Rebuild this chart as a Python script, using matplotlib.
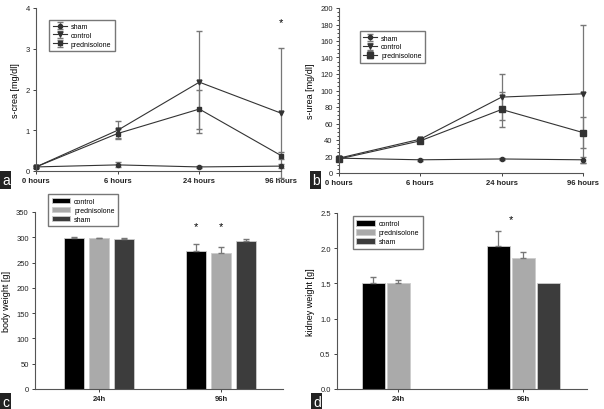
import matplotlib
matplotlib.use("Agg")
import matplotlib.pyplot as plt
import numpy as np

# time course data (panels a, b)
times = ["0 hours", "6 hours", "24 hours", "96 hours"]

crea_sham = [0.1, 0.15, 0.1, 0.12]
crea_sham_err = [0.02, 0.06, 0.02, 0.05]
crea_control = [0.1, 1.0, 2.18, 1.42]
crea_control_err = [0.02, 0.22, 1.25, 1.6]
crea_pred = [0.1, 0.92, 1.52, 0.38]
crea_pred_err = [0.02, 0.12, 0.48, 0.08]

urea_sham = [18, 16, 17, 16]
urea_sham_err = [1, 1, 1, 4]
urea_control = [18, 41, 92, 96]
urea_control_err = [1, 2, 28, 84]
urea_pred = [17, 39, 77, 49]
urea_pred_err = [1, 2, 21, 19]

# bar data (panels c, d)
groups = ["24h", "96h"]
body_control = [299, 273]
body_control_err = [1, 14]
body_pred = [298, 268]
body_pred_err = [1, 13]
body_sham = [297, 292]
body_sham_err = [2, 4]

kidney_control = [1.50, 2.03]
kidney_control_err = [0.09, 0.21]
kidney_pred = [1.50, 1.86]
kidney_pred_err = [0.05, 0.08]
kidney_sham = [np.nan, 1.50]
kidney_sham_err = [0, 0]

plt.rcParams['font.family'] = ['Liberation Sans', 'DejaVu Sans']

fig = plt.figure(figsize=(6.04, 4.10), dpi=100)
W, H = 604.0, 410.0


def add_axes(left, right, top, bottom):
    return fig.add_axes([left / W, 1 - bottom / H, (right - left) / W, (bottom - top) / H])


def style_axes(ax):
    for s in ["top", "right"]:
        ax.spines[s].set_visible(False)
    for s in ["left", "bottom"]:
        ax.spines[s].set_color("#555555")
        ax.spines[s].set_linewidth(0.8)
    ax.tick_params(labelsize=5.5, length=2.5, width=0.6, colors="#222222", pad=2)


def panel_label(x, y, letter):
    fig.text(x / W, 1 - y / H, letter, color="white", fontsize=10, ha="left", va="center",
             bbox=dict(boxstyle="square,pad=0.12", fc="#222222", ec="none"))


def small_legend(ax, anchor, bars=False):
    kw = dict(handlelength=2.6, handleheight=0.9) if bars else dict(handlelength=2.0)
    ax.legend(loc="upper left", bbox_to_anchor=anchor, fontsize=5, frameon=True,
              fancybox=False, edgecolor="#555555", borderpad=0.5, labelspacing=0.25,
              handletextpad=0.6, **kw)


def line_panel(ax, series, ylim, yticks, ylabel):
    x = np.arange(len(times))
    for vals, errs, marker, ms, lab in series:
        ax.errorbar(x, vals, yerr=errs, color="#333333", ecolor="#777777", lw=0.8,
                    elinewidth=0.9, capsize=2.5, marker=marker, ms=ms, label=lab, clip_on=False)
    ax.set_xlim(0, 3)
    ax.set_ylim(*ylim)
    ax.set_yticks(yticks)
    ax.set_xticks(x)
    ax.set_xticklabels(times, fontweight="bold")
    ax.set_ylabel(ylabel, fontsize=6.5, labelpad=4)
    style_axes(ax)


# panel a
ax_a = add_axes(36, 281, 9, 172)
line_panel(ax_a, [
    (crea_sham, crea_sham_err, "o", 3, "sham"),
    (crea_control, crea_control_err, "v", 3.5, "control"),
    (crea_pred, crea_pred_err, "s", 3.5, "prednisolone"),
], (0, 4), [0, 1, 2, 3, 4], "s-crea [mg/dl]")
small_legend(ax_a, (0.04, 0.95))
ax_a.text(3, 3.65, "*", ha="center", va="center", fontsize=8)
panel_label(2, 181, "a")

# panel b
ax_b = add_axes(339, 583, 9, 174)
line_panel(ax_b, [
    (urea_sham, urea_sham_err, "o", 3, "sham"),
    (urea_control, urea_control_err, "v", 3.5, "control"),
    (urea_pred, urea_pred_err, "s", 4, "prednisolone"),
], (0, 200), list(range(0, 201, 20)), "s-urea [mg/dl]")
ax_b.yaxis.set_minor_locator(matplotlib.ticker.MultipleLocator(5))
ax_b.tick_params(which="minor", length=1.5, width=0.5)
small_legend(ax_b, (0.07, 0.88))
panel_label(312, 181, "b")


def bar_panel(ax, bars, spacing, width, xlim, ylim, yticks, ylabel, fmt):
    x = np.arange(len(groups))
    for i, (vals, errs, color, lab) in enumerate(bars):
        pos = x + (i - 1) * spacing
        ax.bar(pos, vals, width, color=color, edgecolor="#cccccc", linewidth=0.6, label=lab)
        keep = [j for j in range(len(errs)) if errs[j] > 0]
        if keep:
            ax.errorbar(pos[keep], [vals[j] for j in keep],
                        yerr=[[0] * len(keep), [errs[j] for j in keep]],
                        fmt="none", ecolor="#777777", elinewidth=0.9, capsize=2.5)
    ax.set_xlim(*xlim)
    ax.set_ylim(*ylim)
    ax.set_yticks(yticks)
    ax.set_yticklabels([fmt.format(v) for v in yticks])
    ax.set_xticks(x)
    ax.set_xticklabels(groups, fontweight="bold")
    ax.set_ylabel(ylabel, fontsize=6.5, labelpad=4)
    style_axes(ax)


bar_colors = ["#000000", "#aaaaaa", "#3c3c3c"]

# panel c
ax_c = add_axes(35, 283, 213, 390)
bar_panel(ax_c, [
    (body_control, body_control_err, bar_colors[0], "control"),
    (body_pred, body_pred_err, bar_colors[1], "prednisolone"),
    (body_sham, body_sham_err, bar_colors[2], "sham"),
], 25 / 122, 20 / 122, (-0.525, 1.508), (0, 350), list(range(0, 351, 50)), "body weight [g]", "{:d}")
small_legend(ax_c, (0.04, 1.12), bars=True)
ax_c.text(1 - 25 / 122, 322, "*", ha="center", va="center", fontsize=8)
ax_c.text(1, 322, "*", ha="center", va="center", fontsize=8)
panel_label(2, 403, "c")

# panel d
ax_d = add_axes(337, 587, 214, 390)
bar_panel(ax_d, [
    (kidney_control, kidney_control_err, bar_colors[0], "control"),
    (kidney_pred, kidney_pred_err, bar_colors[1], "prednisolone"),
    (kidney_sham, kidney_sham_err, bar_colors[2], "sham"),
], 0.2, 23 / 125, (-0.488, 1.512), (0, 2.5), [0, 0.5, 1.0, 1.5, 2.0, 2.5], "kidney weight [g]",
   "{:.1f}")
small_legend(ax_d, (0.05, 1.0), bars=True)
ax_d.text(0.9, 2.42, "*", ha="center", va="center", fontsize=8)
panel_label(313, 403, "d")

fig.savefig("out.png", dpi=100)
